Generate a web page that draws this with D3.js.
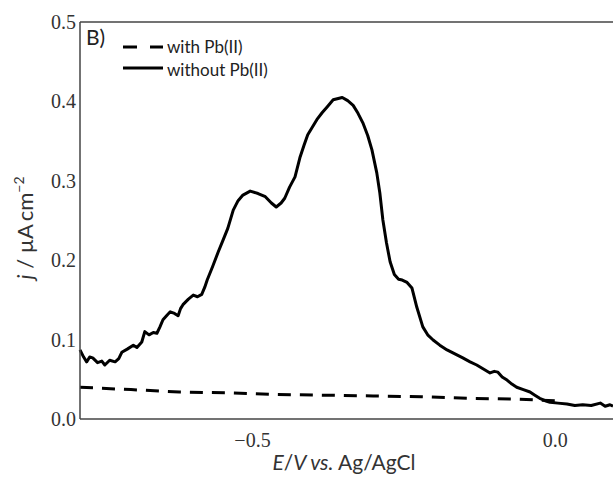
<!DOCTYPE html>
<html>
<head>
<meta charset="utf-8">
<script src="https://cdn.jsdelivr.net/npm/d3@7"></script>
<style>
  body { margin: 0; background: #fff; }
  svg { display: block; }
</style>
</head>
<body>
<div id="chart"></div>
<script>
// E / V vs. Ag/AgCl  ->  j / uA cm^-2
const withoutPb = [
  [-0.784, 0.087], [-0.778, 0.078], [-0.773, 0.072], [-0.768, 0.078], [-0.763, 0.077],
  [-0.755, 0.071], [-0.748, 0.073], [-0.743, 0.068], [-0.735, 0.074], [-0.726, 0.072],
  [-0.720, 0.076], [-0.715, 0.084], [-0.706, 0.088], [-0.696, 0.093], [-0.690, 0.090],
  [-0.682, 0.097], [-0.677, 0.110], [-0.670, 0.106], [-0.663, 0.109], [-0.657, 0.108],
  [-0.652, 0.116], [-0.647, 0.125], [-0.640, 0.131], [-0.635, 0.135], [-0.628, 0.133],
  [-0.622, 0.130], [-0.618, 0.139], [-0.614, 0.144], [-0.605, 0.151], [-0.597, 0.156],
  [-0.590, 0.154], [-0.583, 0.157], [-0.578, 0.166], [-0.574, 0.175], [-0.565, 0.192],
  [-0.556, 0.210], [-0.548, 0.225], [-0.540, 0.240], [-0.531, 0.263], [-0.523, 0.275],
  [-0.515, 0.282], [-0.503, 0.287], [-0.490, 0.284], [-0.478, 0.280], [-0.468, 0.272],
  [-0.460, 0.267], [-0.452, 0.272], [-0.446, 0.278], [-0.438, 0.292], [-0.429, 0.305],
  [-0.421, 0.329], [-0.414, 0.345], [-0.408, 0.358], [-0.400, 0.368], [-0.393, 0.377],
  [-0.384, 0.386], [-0.376, 0.393], [-0.366, 0.402], [-0.351, 0.405], [-0.342, 0.401],
  [-0.333, 0.395], [-0.325, 0.385], [-0.317, 0.373], [-0.309, 0.357], [-0.302, 0.339],
  [-0.294, 0.310], [-0.289, 0.285], [-0.284, 0.251], [-0.278, 0.222], [-0.272, 0.198],
  [-0.265, 0.182], [-0.258, 0.176], [-0.252, 0.175], [-0.244, 0.172], [-0.236, 0.165],
  [-0.228, 0.141], [-0.218, 0.116], [-0.210, 0.106], [-0.201, 0.0995], [-0.190, 0.093],
  [-0.178, 0.087], [-0.165, 0.082], [-0.152, 0.077], [-0.140, 0.072], [-0.129, 0.068],
  [-0.118, 0.063], [-0.107, 0.058], [-0.100, 0.060], [-0.094, 0.059], [-0.087, 0.053],
  [-0.079, 0.049], [-0.071, 0.044], [-0.063, 0.040], [-0.052, 0.037], [-0.041, 0.034],
  [-0.033, 0.030], [-0.025, 0.026], [-0.016, 0.023], [-0.008, 0.021], [0.005, 0.020],
  [0.020, 0.019], [0.033, 0.017], [0.046, 0.018], [0.060, 0.017], [0.075, 0.020],
  [0.083, 0.016], [0.091, 0.018], [0.096, 0.016]
];

const withPb = [
  [-0.784, 0.040], [-0.70, 0.037], [-0.62, 0.034], [-0.54, 0.033], [-0.46, 0.031],
  [-0.38, 0.030], [-0.30, 0.029], [-0.22, 0.028], [-0.14, 0.026], [-0.06, 0.025],
  [0.0, 0.023]
];

const xTicks = [-0.5, 0.0];
const yTicks = [0.0, 0.1, 0.2, 0.3, 0.4, 0.5];
const legendLabels = ["with Pb(II)", "without Pb(II)"];

const width = 613;
const height = 477;
const margin = { top: 22, right: 0, bottom: 58, left: 80 };

const numFont = "'Liberation Serif', serif";
const txtFont = "Lato, 'Open Sans', sans-serif";

const x = d3.scaleLinear()
  .domain([-0.784, 0.096])
  .range([margin.left, width - margin.right]);

const y = d3.scaleLinear()
  .domain([0, 0.5])
  .range([height - margin.bottom, margin.top]);

const svg = d3.select("#chart")
  .append("svg")
  .attr("width", width)
  .attr("height", height);

const line = d3.line()
  .x(d => x(d[0]))
  .y(d => y(d[1]));

// curves
svg.append("path")
  .datum(withPb)
  .attr("fill", "none")
  .attr("stroke", "#000")
  .attr("stroke-width", 3)
  .attr("stroke-dasharray", "13,9")
  .attr("d", line);

svg.append("path")
  .datum(withoutPb)
  .attr("fill", "none")
  .attr("stroke", "#000")
  .attr("stroke-width", 3)
  .attr("stroke-linejoin", "round")
  .attr("d", line);

// frame (left, top, bottom)
const frame = svg.append("g")
  .attr("stroke", "#444")
  .attr("stroke-width", 1.5);
frame.append("line")
  .attr("x1", x.range()[0]).attr("x2", x.range()[0])
  .attr("y1", y(0.5)).attr("y2", y(0));
frame.append("line")
  .attr("x1", x.range()[0]).attr("x2", width)
  .attr("y1", y(0.5)).attr("y2", y(0.5));
frame.append("line")
  .attr("x1", x.range()[0]).attr("x2", width)
  .attr("y1", y(0)).attr("y2", y(0));

// axes: labels only, no tick marks
const xAxis = d3.axisBottom(x)
  .tickValues(xTicks)
  .tickSize(0)
  .tickPadding(14)
  .tickFormat(d => d === 0 ? "0.0" : d3.format(".1f")(d).replace("-", "\u2212"));

const yAxis = d3.axisLeft(y)
  .tickValues(yTicks)
  .tickSize(0)
  .tickPadding(4)
  .tickFormat(d3.format(".1f"));

svg.append("g")
  .attr("transform", `translate(0,${y(0)})`)
  .call(xAxis)
  .call(g => g.select(".domain").remove());

svg.append("g")
  .attr("transform", `translate(${margin.left},0)`)
  .call(yAxis)
  .call(g => g.select(".domain").remove());

svg.selectAll(".tick text")
  .style("font-family", numFont)
  .style("font-size", "20px")
  .style("fill", "#333");

// axis titles
const xt = svg.append("text")
  .attr("x", 344)
  .attr("y", 470)
  .attr("text-anchor", "middle")
  .style("font-family", txtFont)
  .style("font-size", "21px")
  .style("fill", "#333");
xt.append("tspan").style("font-style", "italic").text("E");
xt.append("tspan").text("/");
xt.append("tspan").style("font-style", "italic").text("V vs.");
xt.append("tspan").text(" Ag/AgCl");

const yt = svg.append("text")
  .attr("transform", "translate(33,228) rotate(-90)")
  .attr("text-anchor", "middle")
  .style("font-family", txtFont)
  .style("font-size", "22px")
  .style("fill", "#333");
yt.append("tspan").style("font-style", "italic").text("j");
yt.append("tspan").text(" / \u00b5A\u2009cm");
yt.append("tspan").attr("dy", -9).style("font-size", "14px").text("\u22122");

// panel tag
svg.append("text")
  .attr("x", 86)
  .attr("y", 45)
  .style("font-family", txtFont)
  .style("font-size", "21px")
  .style("fill", "#222")
  .text("B)");

// legend
const legend = svg.append("g");
[0, 1].forEach(i => {
  const ly = 47 + i * 21;
  legend.append("line")
    .attr("x1", 123).attr("x2", 163)
    .attr("y1", ly).attr("y2", ly)
    .attr("stroke", "#000")
    .attr("stroke-width", 3)
    .attr("stroke-dasharray", i === 0 ? "14,13" : null);
  legend.append("text")
    .attr("x", 167)
    .attr("y", ly + 6 + i * 2)
    .style("font-family", txtFont)
    .style("font-size", "17px")
    .style("fill", "#222")
    .text(legendLabels[i]);
});
</script>
</body>
</html>
